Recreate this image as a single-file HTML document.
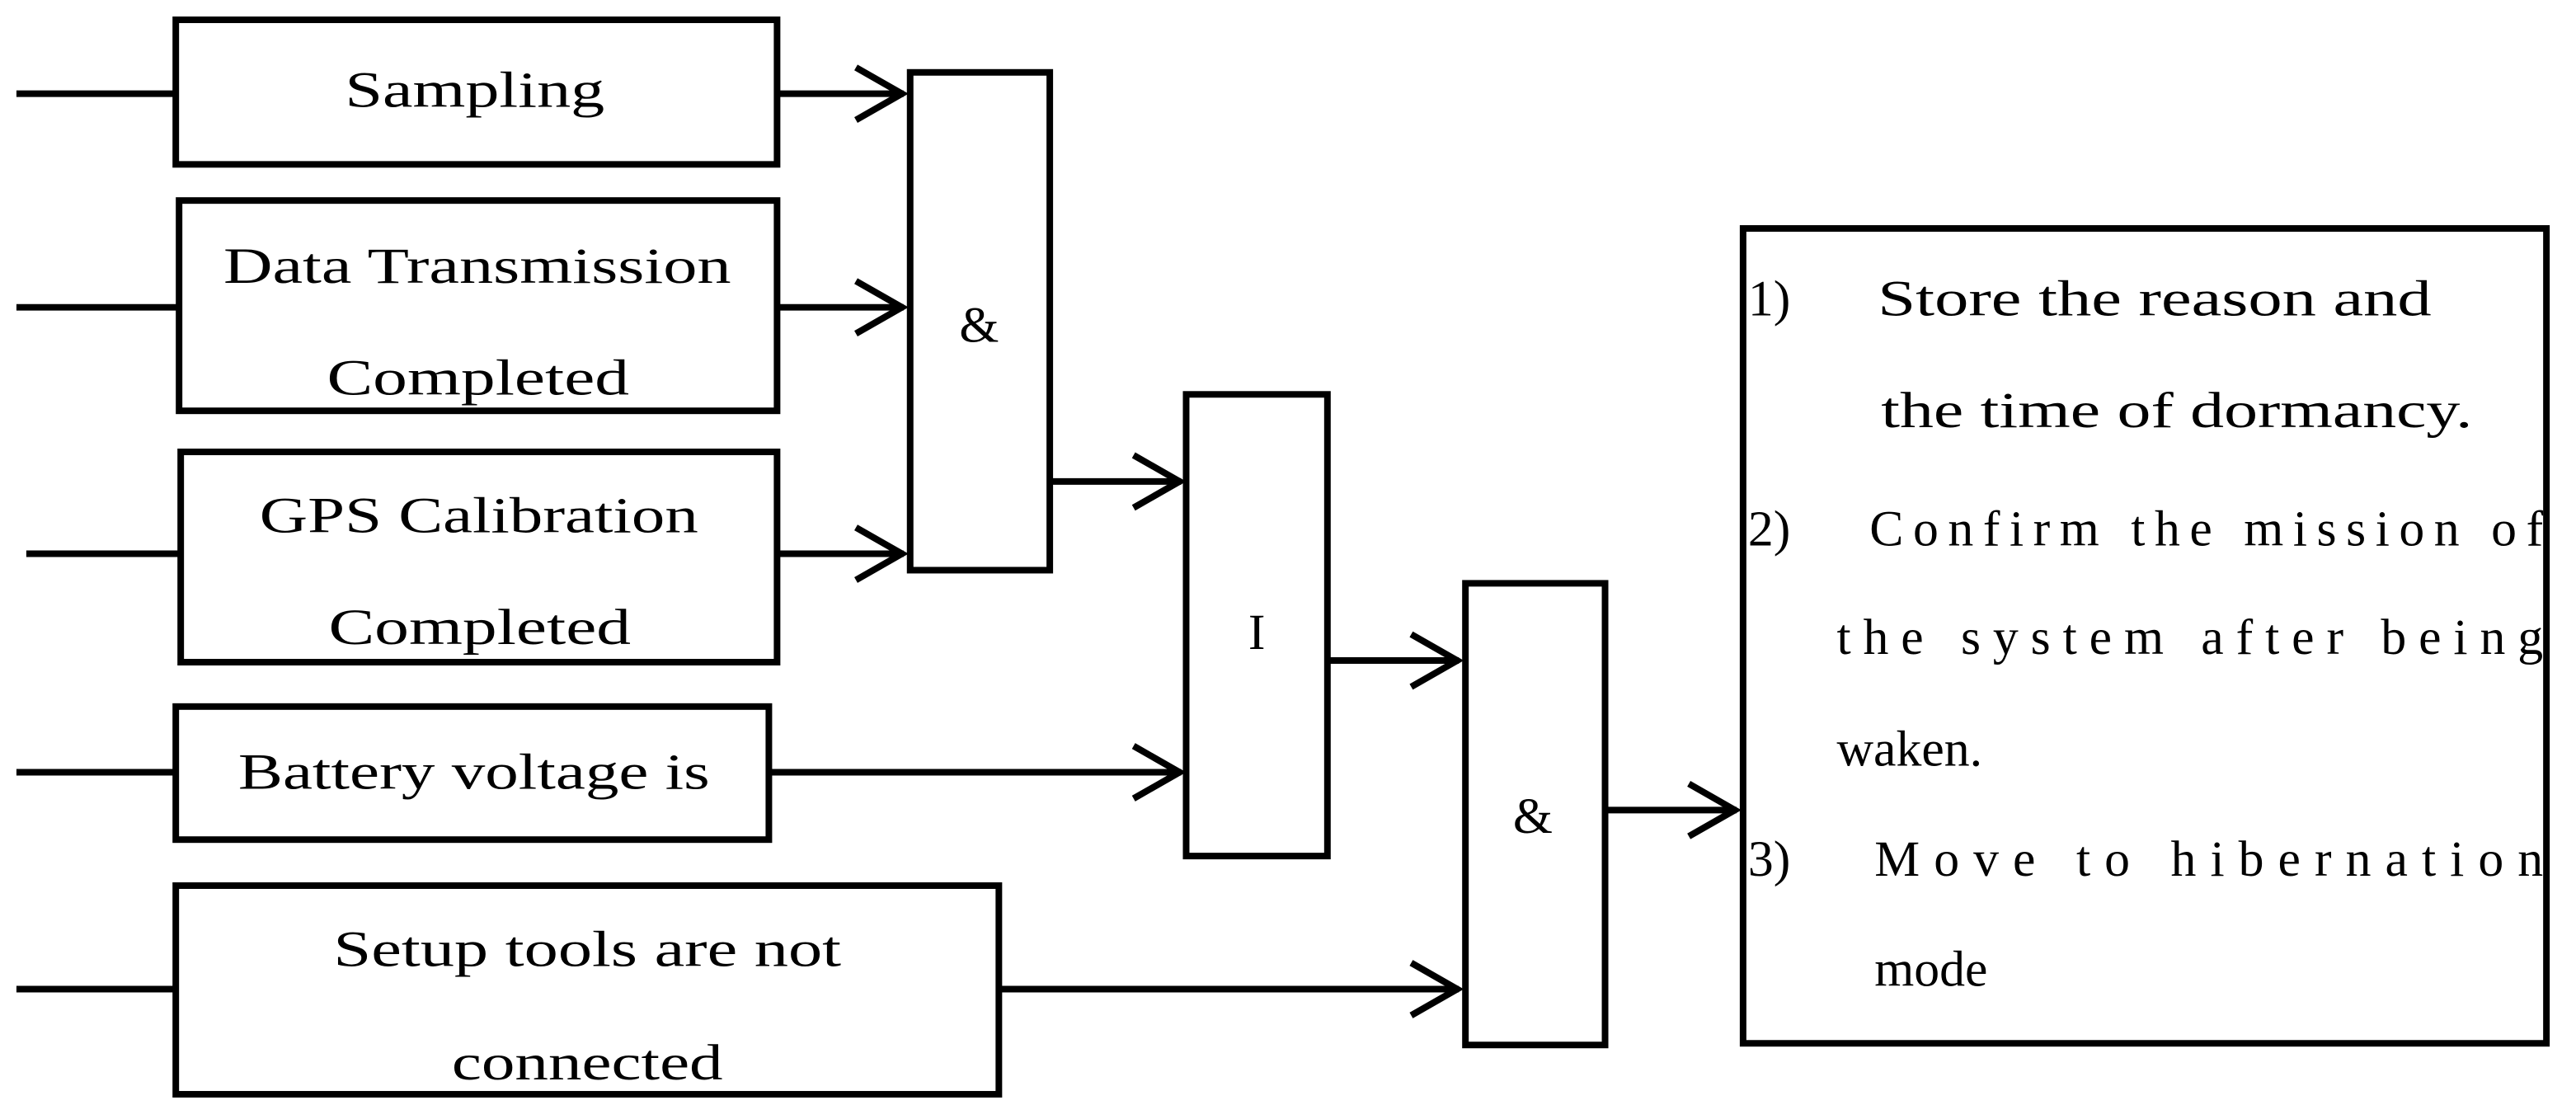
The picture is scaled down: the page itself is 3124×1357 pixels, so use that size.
<!DOCTYPE html>
<html><head><meta charset="utf-8"><style>
html,body{margin:0;padding:0;background:#fff;}
svg{display:block;}
text{font-family:"Liberation Serif",serif;font-size:31px;fill:#000;}
</style></head><body>
<svg width="3124" height="1357" viewBox="0 0 1568 681" xmlns="http://www.w3.org/2000/svg">
<g fill="none" stroke="#000" stroke-width="4">
<rect x="107" y="12" width="366" height="88"/>
<rect x="109" y="122" width="364" height="128"/>
<rect x="110" y="275" width="363" height="128"/>
<rect x="107" y="430" width="361" height="81"/>
<rect x="107" y="539" width="501" height="127"/>
<rect x="554" y="44" width="85" height="303"/>
<rect x="722" y="240" width="86" height="281"/>
<rect x="892" y="355" width="85" height="281"/>
<rect x="1061" y="139" width="489" height="496"/>
<line x1="10" y1="57" x2="107" y2="57"/>
<line x1="10" y1="187" x2="109" y2="187"/>
<line x1="16" y1="337" x2="110" y2="337"/>
<line x1="10" y1="470" x2="107" y2="470"/>
<line x1="10" y1="602" x2="107" y2="602"/>
<line x1="473" y1="57" x2="550" y2="57"/>
<polyline points="521,41 549,57 521,73"/>
<line x1="473" y1="187" x2="550" y2="187"/>
<polyline points="521,171 549,187 521,203"/>
<line x1="473" y1="337" x2="550" y2="337"/>
<polyline points="521,321 549,337 521,353"/>
<line x1="639" y1="293" x2="719" y2="293"/>
<polyline points="690,277 718,293 690,309"/>
<line x1="468" y1="470" x2="719" y2="470"/>
<polyline points="690,454 718,470 690,486"/>
<line x1="808" y1="402" x2="888" y2="402"/>
<polyline points="859,386 887,402 859,418"/>
<line x1="608" y1="602" x2="888" y2="602"/>
<polyline points="859,586 887,602 859,618"/>
<line x1="977" y1="493" x2="1057" y2="493"/>
<polyline points="1028,477 1056,493 1028,509"/>
</g>
<g lengthAdjust="spacingAndGlyphs">
<text x="210" y="65" textLength="158" lengthAdjust="spacingAndGlyphs">Sampling</text>
<text x="136" y="172" textLength="309" lengthAdjust="spacingAndGlyphs">Data Transmission</text>
<text x="199" y="240" textLength="184" lengthAdjust="spacingAndGlyphs">Completed</text>
<text x="158" y="324" textLength="267" lengthAdjust="spacingAndGlyphs">GPS Calibration</text>
<text x="200" y="392" textLength="184" lengthAdjust="spacingAndGlyphs">Completed</text>
<text x="145" y="480" textLength="287" lengthAdjust="spacingAndGlyphs">Battery voltage is</text>
<text x="203" y="588" textLength="309" lengthAdjust="spacingAndGlyphs">Setup tools are not</text>
<text x="275" y="657" textLength="165" lengthAdjust="spacingAndGlyphs">connected</text>
<text x="596" y="208" text-anchor="middle">&amp;</text>
<text x="765" y="395" text-anchor="middle">I</text>
<text x="933" y="507" text-anchor="middle">&amp;</text>
<text x="1064" y="192">1)</text>
<text x="1143" y="192" textLength="337" lengthAdjust="spacingAndGlyphs">Store the reason and</text>
<text x="1145" y="260" textLength="360" lengthAdjust="spacingAndGlyphs">the time of dormancy.</text>
<text x="1064" y="332">2)</text>
<text x="1138" y="332" textLength="410" lengthAdjust="spacing">Confirm the mission of</text>
<text x="1118" y="398" textLength="430" lengthAdjust="spacing">the system after being</text>
<text x="1118" y="466">waken.</text>
<text x="1064" y="533">3)</text>
<text x="1141" y="533" textLength="407" lengthAdjust="spacing">Move to hibernation</text>
<text x="1141" y="600">mode</text>
</g>
</svg>
</body></html>
